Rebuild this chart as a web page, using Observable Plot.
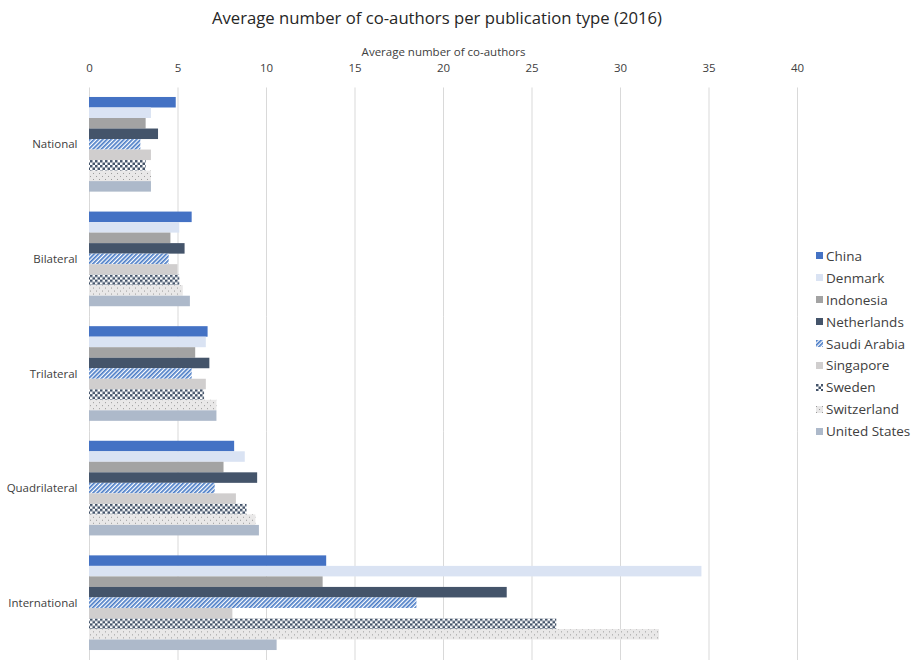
<!DOCTYPE html>
<html>
<head>
<meta charset="utf-8">
<script src="https://cdn.jsdelivr.net/npm/d3@7"></script>
<script src="https://cdn.jsdelivr.net/npm/@observablehq/plot@0.6"></script>
<style>
  body { margin: 0; background: #fff; font-family: "Open Sans", sans-serif; }
  #wrap { position: relative; width: 922px; height: 660px; overflow: hidden; }
  #title { height: 40px; line-height: 36px; text-align: center; font-size: 16.7px; color: #262626; padding-right: 48px; }
  #legend { position: absolute; left: 816px; top: 245px; font-size: 13.5px; color: #404040; }
  #legend .item { height: 21.9px; display: flex; align-items: center; }
  #legend svg { margin-right: 3px; }
</style>
</head>
<body>
<svg width="0" height="0" style="position:absolute">
  <defs>
    <pattern id="pat-saudi" width="3" height="3" patternUnits="userSpaceOnUse" patternTransform="rotate(45)">
      <rect width="3" height="3" fill="#ffffff"></rect>
      <rect width="1.7" height="3" fill="#4a7cc6"></rect>
    </pattern>
    <pattern id="pat-sweden" width="5" height="5" patternUnits="userSpaceOnUse">
      <rect width="5" height="5" fill="#ffffff"></rect>
      <rect width="2.5" height="2.5" fill="#44546a"></rect>
      <rect x="2.5" y="2.5" width="2.5" height="2.5" fill="#44546a"></rect>
    </pattern>
    <pattern id="pat-swiss" width="6" height="6" patternUnits="userSpaceOnUse">
      <rect width="6" height="6" fill="#e9e8e8"></rect>
      <rect x="0" y="0" width="1" height="1" fill="#9a9a9a"></rect>
      <rect x="3" y="3" width="1" height="1" fill="#9a9a9a"></rect>
    </pattern>
  </defs>
</svg>
<div id="wrap">
  <div id="title">Average number of co-authors per publication type (2016)</div>
  <div id="chart"></div>
  <div id="legend"></div>
</div>
<script>
const types = ["National", "Bilateral", "Trilateral", "Quadrilateral", "International"];
const countries = ["China", "Denmark", "Indonesia", "Netherlands", "Saudi Arabia", "Singapore", "Sweden", "Switzerland", "United States"];
const fills = ["#4472c4", "#dae3f3", "#a3a3a3", "#44546a", "url(#pat-saudi)", "#d0cece", "url(#pat-sweden)", "url(#pat-swiss)", "#adb9ca"];

const china       = [4.9, 5.8, 6.7, 8.2, 13.4];
const denmark     = [3.5, 5.1, 6.6, 8.8, 34.6];
const indonesia   = [3.2, 4.6, 6.0, 7.6, 13.2];
const netherlands = [3.9, 5.4, 6.8, 9.5, 23.6];
const saudiArabia = [2.9, 4.5, 5.8, 7.1, 18.5];
const singapore   = [3.5, 5.0, 6.6, 8.3, 8.1];
const sweden      = [3.2, 5.1, 6.5, 8.9, 26.4];
const switzerland = [3.5, 5.3, 7.2, 9.4, 32.2];
const unitedStates= [3.5, 5.7, 7.2, 9.6, 10.6];
const xTicks = [0, 5, 10, 15, 20, 25, 30, 35, 40];

const series = [china, denmark, indonesia, netherlands, saudiArabia, singapore, sweden, switzerland, unitedStates];
const data = [];
countries.forEach((c, i) => {
  types.forEach((t, j) => {
    data.push({type: t, country: c, value: series[i][j], fill: fills[i]});
  });
});

const chart = Plot.plot({
  width: 922,
  height: 620,
  marginTop: 47,
  marginLeft: 89,
  marginRight: 125,
  marginBottom: 0,
  style: {fontFamily: "Open Sans, sans-serif", fontSize: "11.5px", color: "#404040", background: "#fff"},
  x: {domain: [0, 40], axis: "top", ticks: xTicks, tickSize: 0, tickPadding: 25, tickFormat: d => d,
      label: "Average number of co-authors", labelArrow: "none", labelAnchor: "center", labelOffset: 50},
  y: {domain: countries, axis: null, padding: 0, round: false},
  fy: {domain: types, axis: "left", label: null, tickSize: 0, tickPadding: 12, paddingInner: 0.174, paddingOuter: 0.087, round: false},
  color: {type: "identity"},
  marks: [
    Plot.ruleX(xTicks, {x: d => d, stroke: "#d9d9d9", strokeWidth: 1, insetTop: -9.5, insetBottom: -10.5}),
    Plot.barX(data, {fy: "type", y: "country", x: "value", fill: "fill"})
  ]
});
document.getElementById("chart").appendChild(chart);

const legend = document.getElementById("legend");
countries.forEach((c, i) => {
  const item = document.createElement("div");
  item.className = "item";
  item.innerHTML = `<svg width="7" height="7"><rect width="7" height="7" fill="${fills[i]}"></rect></svg><span>${c}</span>`;
  legend.appendChild(item);
});
</script>
</body>
</html>
